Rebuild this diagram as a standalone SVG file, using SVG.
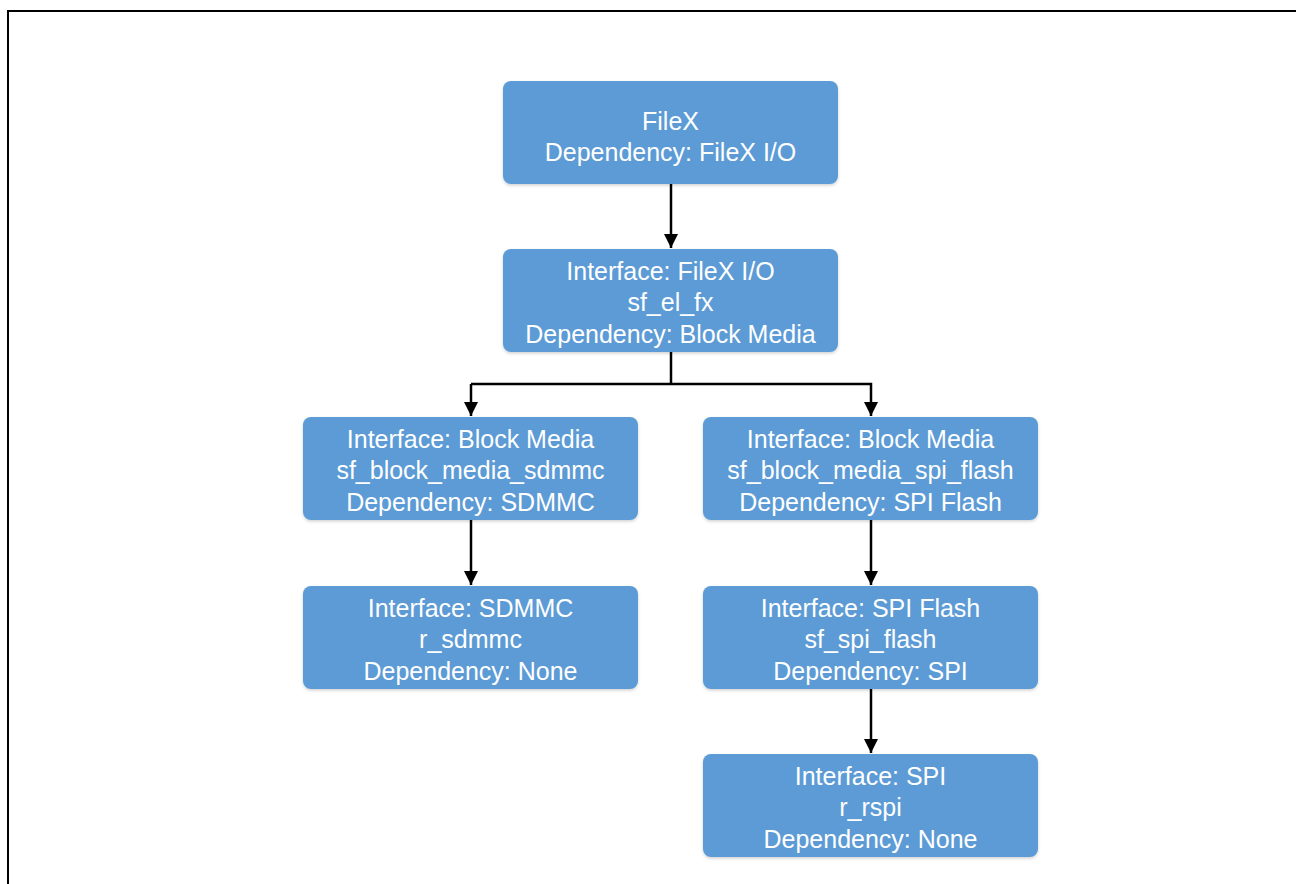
<svg xmlns="http://www.w3.org/2000/svg" width="1296" height="884" viewBox="0 0 1296 884">
<style>
.box{fill:#5B9BD5;filter:url(#sh)}
.t{font-family:"Liberation Sans",Arial,sans-serif;font-size:25px;fill:#ffffff;text-anchor:middle}
.c{stroke:#000;stroke-width:2.5;fill:none}
</style>
<defs>
<filter id="sh" x="-10%" y="-10%" width="120%" height="130%">
<feDropShadow dx="0" dy="1.5" stdDeviation="1.5" flood-color="#000" flood-opacity="0.18"/>
</filter>
<marker id="ah" markerWidth="14" markerHeight="14" viewBox="0 0 14 14" refX="14" refY="7" orient="auto" markerUnits="userSpaceOnUse">
<path d="M0,0 L14,7 L0,14 Z" fill="#000"/>
</marker>
</defs>
<rect width="1296" height="884" fill="#fff"/>
<path d="M8,884 V11 H1296" stroke="#000" stroke-width="2" fill="none"/>
<g id="connectors">
<path class="c" d="M671,184 V248" marker-end="url(#ah)"/>
<path class="c" d="M671,352 V384"/>
<path class="c" d="M471,384 H871 V416" marker-end="url(#ah)"/>
<path class="c" d="M471,384 V416" marker-end="url(#ah)"/>
<path class="c" d="M471,520 V585" marker-end="url(#ah)"/>
<path class="c" d="M871,520 V585" marker-end="url(#ah)"/>
<path class="c" d="M871,689 V753" marker-end="url(#ah)"/>
</g>
<g id="filex">
<rect class="box" x="503" y="81" width="335" height="103" rx="8"/>
<text class="t" x="670.5" y="130">FileX</text>
<text class="t" x="670.5" y="161">Dependency: FileX I/O</text>
</g>
<g id="sf_el_fx">
<rect class="box" x="503" y="249" width="335" height="103" rx="8"/>
<text class="t" x="670.5" y="280">Interface: FileX I/O</text>
<text class="t" x="670.5" y="311">sf_el_fx</text>
<text class="t" x="670.5" y="343">Dependency: Block Media</text>
</g>
<g id="sf_block_media_sdmmc">
<rect class="box" x="303" y="417" width="335" height="103" rx="8"/>
<text class="t" x="470.5" y="448">Interface: Block Media</text>
<text class="t" x="470.5" y="479">sf_block_media_sdmmc</text>
<text class="t" x="470.5" y="511">Dependency: SDMMC</text>
</g>
<g id="sf_block_media_spi_flash">
<rect class="box" x="703" y="417" width="335" height="103" rx="8"/>
<text class="t" x="870.5" y="448">Interface: Block Media</text>
<text class="t" x="870.5" y="479">sf_block_media_spi_flash</text>
<text class="t" x="870.5" y="511">Dependency: SPI Flash</text>
</g>
<g id="r_sdmmc">
<rect class="box" x="303" y="586" width="335" height="103" rx="8"/>
<text class="t" x="470.5" y="617">Interface: SDMMC</text>
<text class="t" x="470.5" y="648">r_sdmmc</text>
<text class="t" x="470.5" y="680">Dependency: None</text>
</g>
<g id="sf_spi_flash">
<rect class="box" x="703" y="586" width="335" height="103" rx="8"/>
<text class="t" x="870.5" y="617">Interface: SPI Flash</text>
<text class="t" x="870.5" y="648">sf_spi_flash</text>
<text class="t" x="870.5" y="680">Dependency: SPI</text>
</g>
<g id="r_rspi">
<rect class="box" x="703" y="754" width="335" height="103" rx="8"/>
<text class="t" x="870.5" y="785">Interface: SPI</text>
<text class="t" x="870.5" y="816">r_rspi</text>
<text class="t" x="870.5" y="848">Dependency: None</text>
</g>
</svg>
